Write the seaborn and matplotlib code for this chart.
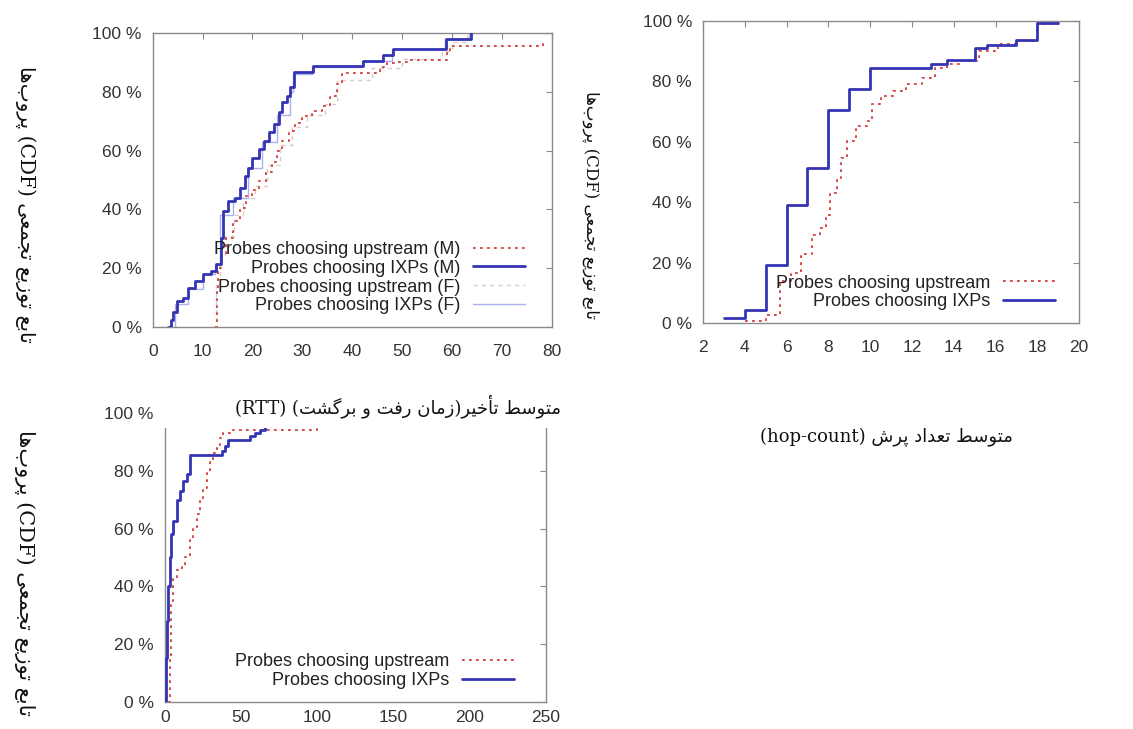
import re
import pandas as pd
import matplotlib
matplotlib.use("Agg")
import matplotlib.pyplot as plt
import seaborn as sns
from matplotlib.patches import Rectangle

# ---- values: x and CDF (%) at each step ----
# average RTT, top-left
rtt_ixp_m_x = [3.1, 3.6, 4.1, 4.8, 6.1, 7.1, 8.4, 10.1, 11.7, 12.7, 13.7, 14.0, 15.0, 16.4, 17.4, 18.4,
               19.0, 20.0, 21.3, 22.3, 23.3, 24.3, 25.3, 26.0, 27.0, 27.6, 28.3, 32.2, 42.1, 46.1, 48.2,
               58.8, 63.9]
rtt_ixp_m_y = [0, 2.5, 5.2, 8.8, 10.0, 13.4, 15.6, 17.9, 19.1, 21.3, 30.4, 39.5, 42.9, 44.0, 47.4, 51.4,
               54.2, 57.6, 60.5, 63.3, 66.2, 69.0, 73.0, 76.4, 78.6, 81.5, 86.6, 88.9, 90.6, 92.5, 94.5,
               97.9, 100]
rtt_up_m_x = [12.5, 12.8, 13.1, 13.7, 14.7, 16.0, 17.4, 18.7, 20.0, 21.3, 22.7, 24.0, 25.0, 26.0, 27.3,
              28.6, 30.0, 32.0, 34.0, 35.6, 36.9, 37.9, 45.5, 46.9, 48.9, 50.9, 58.9, 59.6, 78.3]
rtt_up_m_y = [0, 12.0, 20.0, 24.5, 30.2, 35.9, 40.4, 44.4, 46.7, 49.5, 52.9, 56.3, 59.8, 63.2, 66.6,
              69.4, 71.7, 73.4, 75.1, 78.6, 82.5, 86.3, 88.5, 89.7, 90.2, 90.8, 93.1, 95.5, 98.0]
rtt_up_f_x = [12.0, 12.6, 13.4, 14.5, 16.2, 18.0, 20.5, 23.0, 25.5, 28.0, 31.0, 34.5, 37.0, 44.0, 50.0,
              58.0, 60.0, 63.0]
rtt_up_f_y = [0, 15, 24, 31, 38, 44, 48, 55, 62, 68, 72, 76, 84, 88, 91, 94, 97, 100]
rtt_ixp_f_x = [2.8, 4.5, 7.0, 10.0, 12.5, 13.5, 16.0, 19.0, 22.0, 25.0, 27.5, 28.2, 32.0, 42.0, 48.0,
               58.5, 63.5]
rtt_ixp_f_y = [0, 8, 13, 18, 21, 38, 44, 54, 63, 72, 80, 86, 88.5, 90.5, 94.5, 97.9, 100]

# average hop-count, top-right
hop_ixp_x = [3, 4, 5, 6, 7, 8, 9, 10, 12.9, 13.7, 15, 15.6, 17, 18, 19]
hop_ixp_y = [1.5, 4.2, 19.2, 39.1, 51.3, 70.6, 77.6, 84.4, 85.8, 87.0, 91.0, 92.1, 93.6, 99.3, 99.3]
hop_up_x = [4.0, 5.0, 5.7, 6.2, 6.7, 7.2, 7.6, 7.9, 8.1, 8.4, 8.6, 8.9, 9.3, 9.9, 10.1, 10.5, 11.1,
            11.7, 12.5, 13.1, 13.7, 14.3, 15.2, 16.1, 17.1, 18.0, 19.0]
hop_up_y = [0.8, 2.5, 13.8, 16.6, 22.7, 29.3, 31.5, 35.9, 43.0, 48.0, 54.7, 60.2, 65.2, 66.9, 72.4,
            75.1, 76.8, 79.0, 81.2, 84.5, 85.6, 86.7, 90.0, 92.3, 93.4, 98.9, 100]

# bottom-left
low_ixp_x = [0, 0.5, 1.0, 1.5, 2.0, 3.0, 4.0, 5.5, 7.7, 9.9, 12.0, 14.3, 16.4, 37.3, 39.5, 41.7, 55.9,
             59.2, 62.5, 66, 70]
low_ixp_y = [0, 5, 15, 28, 40, 50, 58, 62.6, 70, 73, 76.5, 78.9, 85.5, 86.7, 88.5, 90.8, 92.0, 93.2,
             94.0, 97, 100]
low_up_x = [2.0, 3.0, 4.0, 5.5, 7.7, 11.0, 13.2, 16.4, 18.6, 20.8, 23.0, 25.2, 27.4, 29.6, 31.8, 34.0,
            36.2, 38.4, 45.0, 100.0]
low_up_y = [0, 15, 35, 43, 45.5, 46.6, 50, 56, 60.6, 65, 69.6, 74, 79.3, 83.4, 86.3, 89, 91.4, 93,
            94.0, 100]

pct_ticks = [0, 20, 40, 60, 80, 100]
pct_labels = ["0 %", "20 %", "40 %", "60 %", "80 %", "100 %"]

ylabel_fa = "تابع توزیع تجمعی (CDF) پروب\u200cها"
xlabel_rtt_fa = "متوسط تأخیر(زمان رفت و برگشت) (RTT)"
xlabel_hop_fa = "متوسط تعداد پرش (hop-count)"

# ---- minimal Persian shaping + right-to-left ordering (matplotlib does neither) ----
FORMS = {  # isolated, final, initial, medial
    'ا': ('\uFE8D', '\uFE8E', None, None), 'أ': ('\uFE83', '\uFE84', None, None),
    'ب': ('\uFE8F', '\uFE90', '\uFE91', '\uFE92'), 'پ': ('\uFB56', '\uFB57', '\uFB58', '\uFB59'),
    'ت': ('\uFE95', '\uFE96', '\uFE97', '\uFE98'), 'ج': ('\uFE9D', '\uFE9E', '\uFE9F', '\uFEA0'),
    'خ': ('\uFEA5', '\uFEA6', '\uFEA7', '\uFEA8'), 'د': ('\uFEA9', '\uFEAA', None, None),
    'ر': ('\uFEAD', '\uFEAE', None, None), 'ز': ('\uFEAF', '\uFEB0', None, None),
    'س': ('\uFEB1', '\uFEB2', '\uFEB3', '\uFEB4'), 'ش': ('\uFEB5', '\uFEB6', '\uFEB7', '\uFEB8'),
    'ط': ('\uFEC1', '\uFEC2', '\uFEC3', '\uFEC4'), 'ع': ('\uFEC9', '\uFECA', '\uFECB', '\uFECC'),
    'ف': ('\uFED1', '\uFED2', '\uFED3', '\uFED4'), 'گ': ('\uFB92', '\uFB93', '\uFB94', '\uFB95'),
    'م': ('\uFEE1', '\uFEE2', '\uFEE3', '\uFEE4'), 'ن': ('\uFEE5', '\uFEE6', '\uFEE7', '\uFEE8'),
    'ه': ('\uFEE9', '\uFEEA', '\uFEEB', '\uFEEC'), 'و': ('\uFEED', '\uFEEE', None, None),
    'ی': ('\uFBFC', '\uFBFD', '\uFBFE', '\uFBFF'),
}


def fa(text):
    out = []
    for i, ch in enumerate(text):
        if ch not in FORMS:
            out.append(ch)
            continue
        prev = text[i - 1] if i > 0 else ''
        nxt = text[i + 1] if i + 1 < len(text) else ''
        join_prev = prev in FORMS and FORMS[prev][2] is not None
        join_next = FORMS[ch][2] is not None and nxt in FORMS
        iso, fin, ini, med = FORMS[ch]
        out.append(med if join_prev and join_next else fin if join_prev else ini if join_next else iso)
    shaped = "".join(out).replace("\u200c", "")
    tokens = re.findall(r"\([A-Za-z\-]+\)|[A-Za-z0-9\-]+|.", shaped)
    swap = {"(": ")", ")": "("}
    return "".join(swap.get(t, t) for t in reversed(tokens))


sns.set_theme(style="white")
plt.rcParams['font.family'] = ['Liberation Sans', 'DejaVu Sans']

BLUE = "#3434b4"
RED = "#d64c4c"
FRAME = "#8a8a8a"
TXT = "#333333"

fig = plt.figure(figsize=(11.33, 7.29), dpi=100)
ax1 = fig.add_axes([0.1348, 0.5514, 0.3522, 0.4033])
ax2 = fig.add_axes([0.6205, 0.5569, 0.3319, 0.4143])
ax3 = fig.add_axes([0.1456, 0.0374, 0.3360, 0.3960])
ax3.set_facecolor("none")


def draw(ax, x, y, label, color, ls, lw, z):
    df = pd.DataFrame({"x": x, "y": y})
    sns.lineplot(data=df, x="x", y="y", ax=ax, color=color, linestyle=ls, linewidth=lw,
                 drawstyle="steps-post", label=label, estimator=None, sort=False, zorder=z)


dotted = (0, (1.4, 2.2))
draw(ax1, rtt_up_f_x, rtt_up_f_y, "Probes choosing upstream (F)", "#d8c8c8", (0, (3, 3)), 1.0, 2)
draw(ax1, rtt_ixp_f_x, rtt_ixp_f_y, "Probes choosing IXPs (F)", "#a9b0ec", "-", 1.0, 2)
draw(ax1, rtt_up_m_x, rtt_up_m_y, "Probes choosing upstream (M)", RED, dotted, 1.4, 3)
draw(ax1, rtt_ixp_m_x, rtt_ixp_m_y, "Probes choosing IXPs (M)", BLUE, "-", 2.0, 4)

draw(ax2, hop_up_x, hop_up_y, "Probes choosing upstream", RED, dotted, 1.4, 3)
draw(ax2, hop_ixp_x, hop_ixp_y, "Probes choosing IXPs", BLUE, "-", 2.0, 4)

draw(ax3, low_up_x, low_up_y, "Probes choosing upstream", RED, dotted, 1.4, 3)
draw(ax3, low_ixp_x, low_ixp_y, "Probes choosing IXPs", BLUE, "-", 2.0, 4)

ax1.set_xlim(0, 80)
ax1.set_xticks(range(0, 81, 10))
ax2.set_xlim(2, 20)
ax2.set_xticks(range(2, 21, 2))
ax3.set_xlim(0, 250)
ax3.set_xticks(range(0, 251, 50))

for ax in (ax1, ax2, ax3):
    ax.set_ylim(0, 100)
    ax.set_yticks(pct_ticks)
    ax.set_yticklabels(pct_labels)
    ax.tick_params(direction="in", length=4, width=0.8, color=FRAME, top=True, right=True,
                   labelsize=12.5, labelcolor=TXT)
    ax.tick_params(axis="y", pad=8)
    ax.tick_params(axis="x", pad=12)
    for sp in ax.spines.values():
        sp.set_color(FRAME)
        sp.set_linewidth(1.0)
    ax.set_xlabel("")
    ax.set_ylabel("")

# the lower panel is cut off near its top in the source
cut = 0.947
ax3.tick_params(axis="x", pad=6, top=False)
ax3.spines["top"].set_visible(False)
ax3.spines["left"].set_bounds(0, 100 * cut)
ax3.spines["right"].set_bounds(0, 100 * cut)
top_tick = ax3.yaxis.get_major_ticks()[-1]
top_tick.tick1line.set_visible(False)
top_tick.tick2line.set_visible(False)
for line in ax3.lines:
    line.set_clip_path(Rectangle((0, 0), 1, cut, transform=ax3.transAxes))

# legends: gnuplot style, text right-aligned with the sample on its right
leg_kw = dict(loc="lower right", frameon=False, markerfirst=False, fontsize=13, labelspacing=0.1,
              handlelength=2.9, handletextpad=0.7, borderpad=0.2, labelcolor="#222222")
h, l = ax1.get_legend_handles_labels()
order = [2, 3, 0, 1]
ax1.legend([h[i] for i in order], [l[i] for i in order], bbox_to_anchor=(0.965, 0.0), **leg_kw)
ax2.legend(bbox_to_anchor=(0.97, 0.0), **leg_kw)
ax3.legend(bbox_to_anchor=(0.95, 0.0), **leg_kw)

# Persian axis titles
fa_kw = dict(fontfamily=["DejaVu Serif", "DejaVu Sans"], color="#111111")
ax1.set_ylabel(fa(ylabel_fa), rotation=270, fontsize=14.5, va="center", ha="center", **fa_kw)
ax1.yaxis.set_label_coords(-0.32, 0.418)
ax2.set_ylabel(fa(ylabel_fa), rotation=270, fontsize=12, va="center", ha="center", **fa_kw)
ax2.yaxis.set_label_coords(-0.30, 0.39)
ax3.set_ylabel(fa(ylabel_fa), rotation=270, fontsize=15, va="center", ha="center", **fa_kw)
ax3.yaxis.set_label_coords(-0.368, 0.446)
ax1.set_xlabel(fa(xlabel_rtt_fa), fontsize=13, va="center", ha="center", **fa_kw)
ax1.xaxis.set_label_coords(0.615, -0.269)
ax2.set_xlabel(fa(xlabel_hop_fa), fontsize=13, va="center", ha="center", **fa_kw)
ax2.xaxis.set_label_coords(0.489, -0.377)

fig.savefig("out.png", dpi=100, facecolor="white")
